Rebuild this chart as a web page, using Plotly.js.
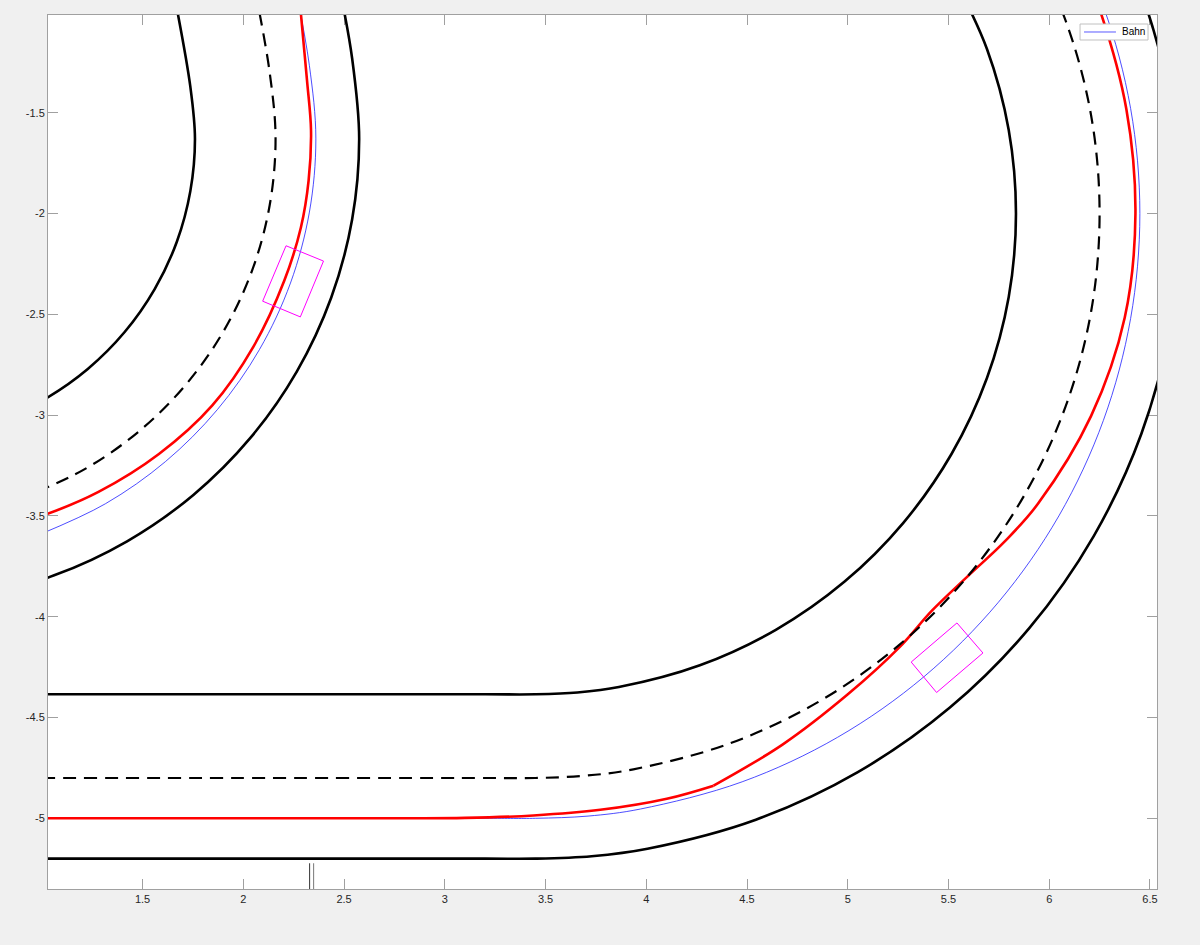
<!DOCTYPE html>
<html>
<head>
<meta charset="utf-8">
<script src="https://cdn.plot.ly/plotly-3.0.1.min.js"></script>
<style>html,body{margin:0;padding:0;background:#f0f0f0;}#chart{width:1200px;height:945px;}</style>
</head>
<body>
<div id="chart"></div>
<script>
// ---- Track: bottom straight + big right curve ----
const innerBigX  = [1.0, 3.2, 3.45, 3.658, 3.864, 4.266, 4.643, 4.983, 5.277, 5.515, 5.691, 5.799, 5.835, 5.799, 5.691, 5.515];
const innerBigY  = [-4.385, -4.385, -4.385, -4.376, -4.349, -4.241, -4.065, -3.827, -3.533, -3.193, -2.816, -2.414, -2.0, -1.586, -1.184, -0.808];
const dashBigX   = [1.0, 3.2, 3.45, 3.694, 3.936, 4.408, 4.85, 5.25, 5.595, 5.875, 6.081, 6.208, 6.25, 6.208, 6.081, 5.875];
const dashBigY   = [-4.8, -4.8, -4.8, -4.789, -4.757, -4.631, -4.425, -4.145, -3.8, -3.4, -2.958, -2.486, -2.0, -1.514, -1.042, -0.6];
const outerBigX  = [1.0, 3.2, 3.45, 3.729, 4.006, 4.544, 5.05, 5.507, 5.901, 6.221, 6.457, 6.601, 6.65, 6.601, 6.457, 6.221];
const outerBigY  = [-5.2, -5.2, -5.2, -5.188, -5.151, -5.007, -4.771, -4.451, -4.057, -3.6, -3.094, -2.556, -2.0, -1.444, -0.906, -0.4];

// ---- Track: upper-left S curve ----
const innerLX = [1.654, 1.737, 1.76, 1.737, 1.670, 1.560, 1.411, 1.228, 1.015, 0.780];
const innerLY = [-0.9, -1.371, -1.63, -1.889, -2.140, -2.375, -2.588, -2.771, -2.920, -3.030];
const dashLX  = [2.060, 2.131, 2.16, 2.131, 2.046, 1.907, 1.718, 1.485, 1.215, 0.916];
const dashLY  = [-0.9, -1.302, -1.63, -1.958, -2.276, -2.575, -2.845, -3.078, -3.267, -3.406];
const outerLX = [2.481, 2.540, 2.575, 2.540, 2.436, 2.266, 2.036, 1.752, 1.423, 1.058, 0.670];
const outerLY = [-0.9, -1.230, -1.63, -2.030, -2.418, -2.783, -3.112, -3.396, -3.626, -3.796, -3.900];

// ---- Reference path "Bahn" (blue) ----
const bahnLX = [2.263, 2.328, 2.36, 2.328, 2.234, 2.080, 1.871, 1.613, 1.315, 0.985];
const bahnLY = [-0.9, -1.267, -1.63, -1.993, -2.345, -2.675, -2.973, -3.231, -3.440, -3.594];
const bahnBX = [1.0, 3.2, 3.45, 3.711, 3.971, 4.476, 4.95, 5.378, 5.748, 6.048, 6.269, 6.404, 6.45, 6.404, 6.269, 6.048];
const bahnBY = [-5.0, -5.0, -5.0, -4.989, -4.954, -4.819, -4.598, -4.298, -3.928, -3.5, -3.026, -2.521, -2.0, -1.479, -0.974, -0.5];

// ---- Driven path (red) ----
const redAX = [2.278, 2.286, 2.316, 2.336, 2.324, 2.286, 2.203, 2.051, 1.846, 1.581, 1.281, 1.022, 0.788];
const redAY = [-0.9, -1.012, -1.339, -1.588, -1.837, -2.068, -2.334, -2.659, -2.952, -3.193, -3.381, -3.492, -3.562];
const redBX = [1.0, 2.8, 3.1, 3.44, 3.772, 4.102, 4.334];
const redBY = [-5.0, -5.0, -4.998, -4.986, -4.958, -4.903, -4.838];
const redCX = [4.334, 4.678, 4.999, 5.256, 5.419, 5.595, 5.777, 5.944, 6.208, 6.375, 6.428, 6.383, 6.248, 6.149];
const redCY = [-4.838, -4.633, -4.386, -4.152, -3.969, -3.80, -3.629, -3.44, -3.004, -2.516, -2.0, -1.483, -0.981, -0.741];

// ---- Vehicle outlines (magenta) ----
const car1X = [2.212, 2.398, 2.283, 2.096, 2.212];
const car1Y = [-2.160, -2.236, -2.513, -2.435, -2.160];
const car2X = [5.542, 5.671, 5.441, 5.315, 5.542];
const car2Y = [-4.031, -4.180, -4.376, -4.225, -4.031];

// ---- Small vertical marks at the bottom ----
const markAX = [2.329, 2.329];
const markBX = [2.349, 2.349];
const markY  = [-5.223, -5.6];

// ---- Ticks and legend text ----
const xTicks = [1.5, 2, 2.5, 3, 3.5, 4, 4.5, 5, 5.5, 6, 6.5];
const xTickText = ['1.5', '2', '2.5', '3', '3.5', '4', '4.5', '5', '5.5', '6', '6.5'];
const yTicks = [-5, -4.5, -4, -3.5, -3, -2.5, -2, -1.5];
const yTickText = ['-5', '-4.5', '-4', '-3.5', '-3', '-2.5', '-2', '-1.5'];
const legendLabel = 'Bahn';

const BLACK = {color: '#000000', width: 2.6, shape: 'spline', smoothing: 1};
const DASHED = {color: '#000000', width: 2.2, shape: 'spline', smoothing: 1, dash: '13px,8px'};
const BLUE = {color: '#2020ff', width: 0.8, shape: 'spline', smoothing: 1};
const RED = {color: '#ff0000', width: 2.6, shape: 'spline', smoothing: 1};
function tr(x, y, line, extra) {
  return Object.assign({x: x, y: y, type: 'scatter', mode: 'lines', line: line, showlegend: false, hoverinfo: 'skip'}, extra || {});
}

const data = [
  tr(innerBigX, innerBigY, BLACK),
  tr(outerBigX, outerBigY, BLACK),
  tr(innerLX, innerLY, BLACK),
  tr(outerLX, outerLY, BLACK),
  tr(bahnBX, bahnBY, BLUE, {name: legendLabel}),
  tr(bahnLX, bahnLY, BLUE, {name: legendLabel}),
  tr(redAX, redAY, RED),
  tr(redBX, redBY, RED),
  tr(redCX, redCY, RED),
  tr(dashBigX, dashBigY, DASHED),
  tr(dashLX, dashLY, DASHED),
  tr(car1X, car1Y, {color: '#ff00ff', width: 1}),
  tr(car2X, car2Y, {color: '#ff00ff', width: 1}),
  tr(markAX, markY, {color: '#333333', width: 1}),
  tr(markBX, markY, {color: '#777777', width: 1})
];

const axisCommon = {
  showgrid: false, zeroline: false, showline: true, linecolor: '#a0a0a0', linewidth: 1,
  mirror: 'ticks', ticks: 'inside', ticklen: 10, tickwidth: 1, tickcolor: '#a0a0a0',
  tickfont: {family: 'Liberation Sans, Arial, sans-serif', size: 11, color: '#262626'},
  layer: 'below traces',
  fixedrange: true
};

// legend box (MATLAB style) in paper coordinates of the plot area
const layout = {
  width: 1200, height: 945,
  paper_bgcolor: '#f0f0f0', plot_bgcolor: '#ffffff',
  margin: {l: 48, r: 43, t: 15, b: 56, pad: 0},
  xaxis: Object.assign({}, axisCommon, {range: [1.0305, 6.535], tickmode: 'array', tickvals: xTicks, ticktext: xTickText}),
  yaxis: Object.assign({}, axisCommon, {range: [-5.3507, -1.0154], tickmode: 'array', tickvals: yTicks, ticktext: yTickText}),
  showlegend: false,
  shapes: [
    {type: 'rect', xref: 'paper', yref: 'paper', x0: 0.9306, x1: 0.9919, y0: 0.9714, y1: 0.9897,
     fillcolor: '#ffffff', line: {color: '#c0c0c0', width: 1}, layer: 'above'},
    {type: 'line', xref: 'paper', yref: 'paper', x0: 0.9342, x1: 0.9630, y0: 0.98055, y1: 0.98055,
     line: {color: '#5a5aff', width: 1}, layer: 'above'}
  ],
  annotations: [
    {xref: 'paper', yref: 'paper', x: 0.9662, y: 0.98055, xanchor: 'left', yanchor: 'middle',
     text: legendLabel, showarrow: false, font: {family: 'Liberation Sans, Arial, sans-serif', size: 10, color: '#000000'}}
  ]
};

Plotly.newPlot('chart', data, layout, {displayModeBar: false, staticPlot: true});
</script>
</body>
</html>
